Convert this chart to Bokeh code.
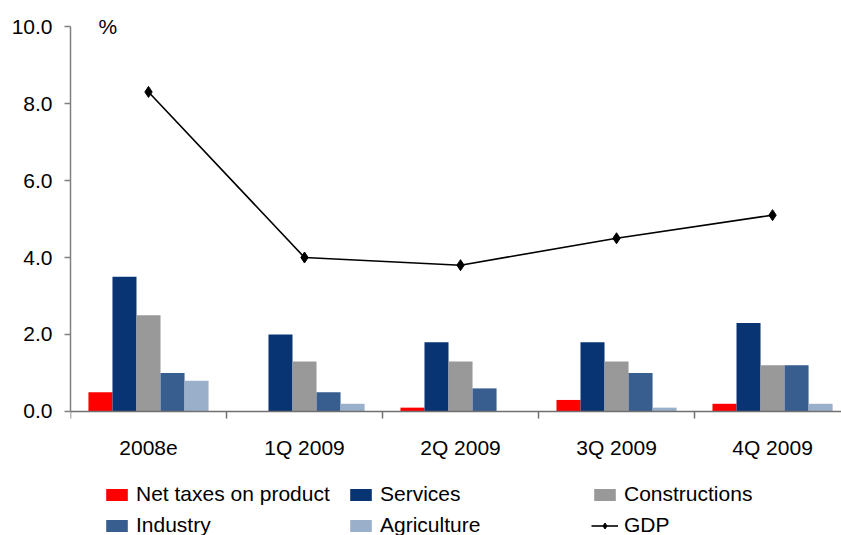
from bokeh.plotting import figure
from bokeh.models import ColumnDataSource, FixedTicker, Range1d, Label, Legend, LegendItem
from bokeh.transform import dodge
from bokeh.embed import file_html
from bokeh.resources import INLINE

categories = ["2008e", "1Q 2009", "2Q 2009", "3Q 2009", "4Q 2009"]
net_taxes = [0.5, 0.0, 0.1, 0.3, 0.2]
services = [3.5, 2.0, 1.8, 1.8, 2.3]
constructions = [2.5, 1.3, 1.3, 1.3, 1.2]
industry = [1.0, 0.5, 0.6, 1.0, 1.2]
agriculture = [0.8, 0.2, 0.0, 0.1, 0.2]
gdp = [8.3, 4.0, 3.8, 4.5, 5.1]
y_ticks = [0, 2, 4, 6, 8, 10]

FONT = "Liberation Sans"
FS = "21px"

src = ColumnDataSource(dict(x=list(range(len(categories))), net=net_taxes, srv=services,
                            con=constructions, ind=industry, agr=agriculture, gdp=gdp))

# frame spans the full height; the x axis is pinned at y = 0
p = figure(width=841, height=535, output_backend="svg", toolbar_location=None,
           x_range=Range1d(-0.5, 4.442), y_range=Range1d(-3.221, 10.208),
           min_border_left=70, min_border_right=0, min_border_top=18, min_border_bottom=0)
p.outline_line_color = None
p.xgrid.visible = False
p.ygrid.visible = False

bw = 0.154
series = [("net", "Net taxes on product", "#FF0000", -2),
          ("srv", "Services", "#083473", -1),
          ("con", "Constructions", "#999999", 0),
          ("ind", "Industry", "#385D8F", 1),
          ("agr", "Agriculture", "#9AAFC9", 2)]
renderers = {}
for col, name, color, k in series:
    r = p.vbar(x=dodge("x", k * bw, range=p.x_range), top=col, width=bw, source=src,
               fill_color=color, line_color=None)
    renderers[name] = r

gl = p.line("x", "gdp", source=src, line_color="black", line_width=1.6)
gs = p.scatter("x", "gdp", source=src, marker="diamond", size=11, fill_color="black", line_color="black")

# axes
xa = p.xaxis[0]
xa.fixed_location = 0
xa.ticker = FixedTicker(ticks=[0, 1, 2, 3, 4], minor_ticks=[-0.5, 0.5, 1.5, 2.5, 3.5])
xa.major_label_overrides = {i: c for i, c in enumerate(categories)}
xa.major_tick_line_color = None
xa.major_tick_out = 0
xa.major_tick_in = 0
xa.minor_tick_line_color = "#707070"
xa.minor_tick_line_width = 1.5
xa.minor_tick_out = 7
xa.minor_tick_in = 0
xa.axis_line_color = "#707070"
xa.axis_line_width = 1.5
xa.major_label_text_font = FONT
xa.major_label_text_font_size = FS
xa.major_label_text_color = "black"
xa.major_label_standoff = 18

ya = p.yaxis[0]
ya.ticker = FixedTicker(ticks=y_ticks, minor_ticks=[])
ya.bounds = (0, 10)
ya.major_label_overrides = {t: f"{t:.1f}" for t in y_ticks}
ya.major_tick_line_color = "#808080"
ya.major_tick_line_width = 1.5
ya.major_tick_out = 6
ya.major_tick_in = 0
ya.minor_tick_line_color = None
ya.axis_line_color = "#808080"
ya.axis_line_width = 1.5
ya.major_label_text_font = FONT
ya.major_label_text_font_size = FS
ya.major_label_text_color = "black"
ya.major_label_standoff = 12

p.add_layout(Label(x=-0.32, y=10, text="%", text_font=FONT, text_font_size=FS,
                   text_baseline="middle", text_color="black"))

# legend fills column by column: order gives rows
# [Net taxes, Services, Constructions] / [Industry, Agriculture, GDP]
items = [LegendItem(label="Net taxes on product", renderers=[renderers["Net taxes on product"]]),
         LegendItem(label="Industry", renderers=[renderers["Industry"]]),
         LegendItem(label="Services", renderers=[renderers["Services"]]),
         LegendItem(label="Agriculture", renderers=[renderers["Agriculture"]]),
         LegendItem(label="Constructions", renderers=[renderers["Constructions"]]),
         LegendItem(label="GDP", renderers=[gl, gs])]
leg = Legend(items=items, ncols=3, location=(33, -2.5), border_line_color=None,
             background_fill_alpha=0, padding=0, margin=0, spacing=6,
             glyph_width=27, glyph_height=15, label_standoff=6, label_width=205,
             label_height=25, label_text_font=FONT, label_text_font_size=FS,
             label_text_color="black")
p.add_layout(leg, "center")

open("out.html", "w").write(file_html(p, INLINE))
